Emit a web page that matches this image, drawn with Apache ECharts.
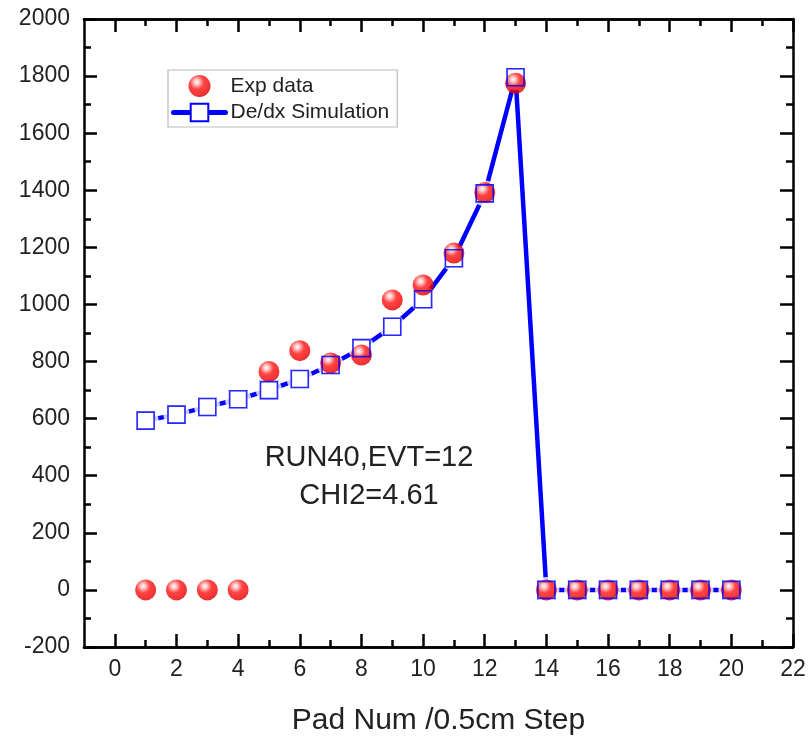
<!DOCTYPE html>
<html>
<head>
<meta charset="utf-8">
<script src="https://cdn.jsdelivr.net/npm/echarts@6/dist/echarts.min.js"></script>
<style>html,body{margin:0;padding:0;background:#fff}#c{width:810px;height:736px}</style>
</head>
<body>
<div id="c"></div>
<script>
const pads = [1,2,3,4,5,6,7,8,9,10,11,12,13,14,15,16,17,18,19,20];
const expData = [0,0,0,0,765,838,795,823,1016,1068,1180,1392,1775,0,0,0,0,0,0,0];
const simData = [593,614,641,668,700,739,788,847,922,1018,1162,1389,1796,0,0,0,0,0,0,0];
const xMajorTicks = [0,2,4,6,8,10,12,14,16,18,20,22];
const xMinorTicks = [1,3,5,7,9,11,13,15,17,19,21];
const xRange = [-1, 22];
const yRange = [-200, 2000];
const yStep = 200;
const seriesNames = ['Exp data', 'De/dx Simulation'];
const xTitle = 'Pad Num /0.5cm Step';
const noteLines = ['RUN40,EVT=12', 'CHI2=4.61'];

const FONT = "'Liberation Sans', Arial, sans-serif";
const BLUE = '#0000ff';
const expPts = pads.map((p, i) => [p, expData[i]]);
const simPts = pads.map((p, i) => [p, simData[i]]);
const plain = v => String(v);

function xAxisDef(pos, ticks, len, labels) {
  return {
    type: 'value', position: pos, min: xRange[0], max: xRange[1],
    axisLine: { show: true, onZero: false, lineStyle: { color: '#000', width: 2.5 } },
    axisTick: { show: true, inside: true, length: len, customValues: ticks, lineStyle: { color: '#000', width: 2.5 } },
    axisLabel: { show: labels, customValues: ticks, formatter: plain, margin: 11, fontSize: 23, color: '#222', fontFamily: FONT },
    splitLine: { show: false }
  };
}
function yAxisDef(pos, labels) {
  return {
    type: 'value', position: pos, min: yRange[0], max: yRange[1], interval: yStep,
    axisLine: { show: true, onZero: false, lineStyle: { color: '#000', width: 2.5 } },
    axisTick: { show: true, inside: true, length: 13, lineStyle: { color: '#000', width: 2.5 } },
    minorTick: { show: true, splitNumber: 2, length: 7, lineStyle: { color: '#000', width: 2.5 } },
    axisLabel: { show: labels, formatter: plain, margin: 14, fontSize: 23, color: '#222', fontFamily: FONT },
    splitLine: { show: false }, minorSplitLine: { show: false }
  };
}

const xAxes = [
  xAxisDef('bottom', xMajorTicks, 13, true),
  xAxisDef('bottom', xMinorTicks, 7, false),
  xAxisDef('top', xMajorTicks, 13, false),
  xAxisDef('top', xMinorTicks, 7, false)
];
xAxes[0].name = xTitle;
xAxes[0].nameLocation = 'middle';
xAxes[0].nameGap = 59;
xAxes[0].nameTextStyle = { fontSize: 30, color: '#222', fontFamily: FONT };

const sphere = {
  type: 'radial', x: 0.38, y: 0.32, r: 0.72,
  colorStops: [
    { offset: 0, color: '#ffffff' },
    { offset: 0.18, color: '#ffb0b0' },
    { offset: 0.45, color: '#ff1515' },
    { offset: 0.85, color: '#ee0000' },
    { offset: 1, color: '#c80000' }
  ]
};

const option = {
  animation: false,
  backgroundColor: '#fff',
  grid: { left: 84, right: 17, top: 19, bottom: 89, containLabel: false, outerBoundsMode: 'none' },
  xAxis: xAxes,
  yAxis: [yAxisDef('left', true), yAxisDef('right', false)],
  legend: {
    data: [seriesNames[0], seriesNames[1]],
    orient: 'vertical', left: 168, top: 70,
    borderColor: '#bbbbbb', borderWidth: 1.2,
    padding: [5, 8, 4, 3], itemGap: 5, itemWidth: 52, itemHeight: 22,
    textStyle: { fontSize: 21, color: '#222', fontFamily: FONT },
    lineStyle: { width: 5, cap: 'round', color: BLUE },
    selectedMode: false
  },
  series: [
    {
      name: seriesNames[1], type: 'line', data: simPts, z: 2,
      symbol: 'rect', symbolSize: 17,
      itemStyle: { color: '#ffffff', borderColor: BLUE, borderWidth: 1.6 },
      lineStyle: { color: BLUE, width: 4.5, cap: 'round' },
      silent: true
    },
    {
      name: 'gap', type: 'scatter', data: simPts, z: 3,
      symbol: 'circle', symbolSize: 26,
      itemStyle: { color: '#ffffff' }, silent: true
    },
    {
      name: seriesNames[0], type: 'scatter', data: expPts, z: 4,
      symbol: 'circle', symbolSize: 21,
      itemStyle: { color: sphere }, silent: true
    },
    {
      name: 'simMarkers', type: 'scatter', data: simPts, z: 5,
      symbol: 'rect', symbolSize: 17,
      itemStyle: { color: 'rgba(0,0,0,0)', borderColor: BLUE, borderWidth: 1.6 },
      silent: true
    }
  ]
};
option.graphic = noteLines.map((t, i) => ({
  type: 'text', x: 369, y: i === 0 ? 458 : 496, z: 100,
  style: { text: t, fontSize: 29, fill: '#222', fontFamily: FONT, align: 'center', verticalAlign: 'middle' }
}));

const chart = echarts.init(document.getElementById('c'), null, { renderer: 'canvas' });
chart.setOption(option);
</script>
</body>
</html>
